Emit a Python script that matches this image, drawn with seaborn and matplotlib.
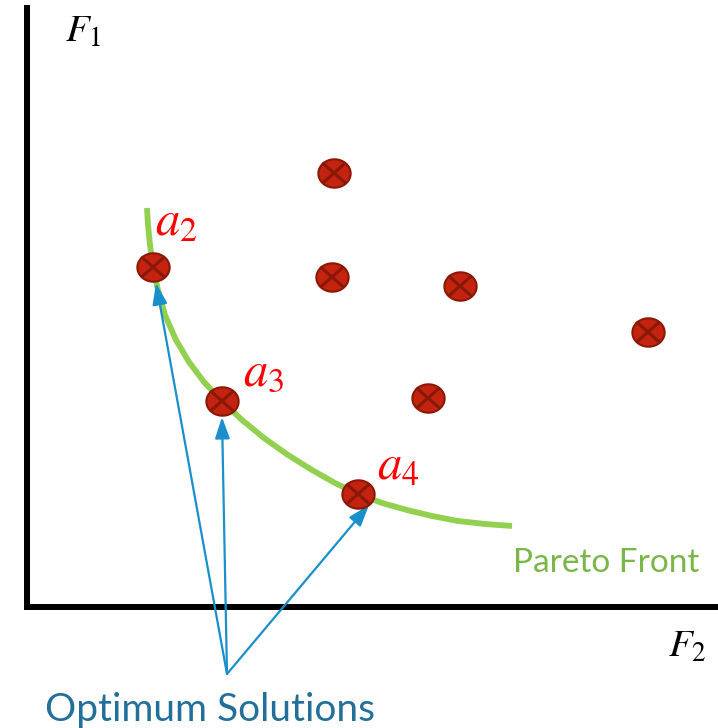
import numpy as np
import matplotlib
matplotlib.use("Agg")
import matplotlib.pyplot as plt
from matplotlib.path import Path
import seaborn as sns

# Candidate solutions in objective space (F2 horizontal, F1 vertical)
sol_f2 = [153, 222, 358, 334, 332, 460, 648, 428]
sol_f1 = [461, 327, 234, 555, 451, 442, 396, 330]

# Non-dominated solutions, their labels and arrow tips
opt_labels = ["$a_2$", "$a_3$", "$a_4$"]
label_f2 = [155, 243, 377]
label_f1 = [493, 343, 249]
tip_f2 = [156, 222, 369]
tip_f1 = [445, 311, 223]

# Pareto front trace
front_f2 = [147, 148, 150, 153, 158, 165, 176, 189, 204, 222, 242, 264, 288,
            312, 335, 358, 382, 407, 432, 458, 485, 512]
front_f1 = [520, 503, 483, 461, 438, 413, 388, 366, 346, 327, 308, 290, 273,
            258, 245, 234, 225, 218, 212, 207, 204, 202]

# Callout origin for the arrows
callout_f2, callout_f1 = 227, 54

sns.set_theme(style="white")
plt.rcParams["mathtext.fontset"] = "stix"

fig = plt.figure(figsize=(7.18, 7.28), dpi=100)
ax = fig.add_axes([0, 0, 1, 1])
ax.set_xlim(0, 718)
ax.set_ylim(0, 728)
ax.set_xticks([])
ax.set_yticks([])

# Objective axes drawn as thick spines
for side in ["top", "right"]:
    ax.spines[side].set_visible(False)
ax.spines["left"].set_position(("data", 27))
ax.spines["left"].set_bounds(121, 723)
ax.spines["bottom"].set_position(("data", 121))
ax.spines["bottom"].set_bounds(24, 718)
for side in ["left", "bottom"]:
    ax.spines[side].set_linewidth(4.3)
    ax.spines[side].set_color("black")
    ax.spines[side].set_capstyle("butt")

# Pareto front curve
sns.lineplot(x=front_f2, y=front_f1, ax=ax, color="#92D050", linewidth=4.2,
             sort=False, solid_capstyle="butt", solid_joinstyle="round")

# Elliptical marker with a cross inside
t = np.linspace(0, 2 * np.pi, 73)
ell = Path(np.column_stack([np.cos(t), 0.88 * np.sin(t)]), closed=True)
c = np.sqrt(0.5)
cross = Path([(-c, -0.88 * c), (c, 0.88 * c), (-c, 0.88 * c), (c, -0.88 * c)],
             [Path.MOVETO, Path.LINETO, Path.MOVETO, Path.LINETO])

sns.scatterplot(x=sol_f2, y=sol_f1, ax=ax, marker=ell, s=540,
                color="#C4230F", edgecolor="#8A1808", linewidth=1.5, zorder=4)
ax.scatter(sol_f2, sol_f1, marker=cross, s=285, facecolors="none",
           edgecolors="#8A1808", linewidths=2.2, zorder=5)

# Arrows from the callout to the optimum solutions
for x, y in zip(tip_f2, tip_f1):
    ax.annotate("", xy=(x, y), xytext=(callout_f2, callout_f1),
                arrowprops=dict(arrowstyle="-|>,head_length=1.3,head_width=0.45",
                                mutation_scale=10, lw=1.6, color="#1A8FCB",
                                shrinkA=0, shrinkB=0))

for lab, x, y in zip(opt_labels, label_f2, label_f1):
    ax.text(x, y, lab, color="#FF0000", fontsize=35, ha="left", va="baseline")

ax.text(65, 686, "$F_1$", color="black", fontsize=28, ha="left", va="baseline")
ax.text(668, 71, "$F_2$", color="black", fontsize=28, ha="left", va="baseline")

ax.text(513, 156, "Pareto Front", color="#7AB648", fontsize=24,
        family="Lato", ha="left", va="baseline")
ax.text(45, 7, "Optimum Solutions", color="#22709A", fontsize=28,
        family="Lato", ha="left", va="baseline")

fig.savefig("out.png", dpi=100)
